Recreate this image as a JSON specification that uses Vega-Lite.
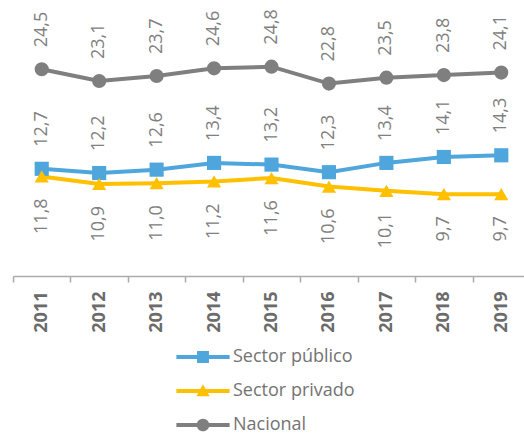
{
  "$schema": "https://vega.github.io/schema/vega-lite/v6.json",
  "width": 511,
  "height": 276,
  "autosize": {"type": "none"},
  "padding": {"left": 13, "top": 0, "right": 0, "bottom": 160},
  "config": {
    "view": {"stroke": null},
    "font": "Open Sans",
    "locale": {"number": {"decimal": ",", "thousands": ".", "grouping": [3], "currency": ["", " €"]}}
  },
  "data": {
    "values": [
      {"year": "2011", "serie": "Sector público", "value": 12.7},
      {"year": "2012", "serie": "Sector público", "value": 12.2},
      {"year": "2013", "serie": "Sector público", "value": 12.6},
      {"year": "2014", "serie": "Sector público", "value": 13.4},
      {"year": "2015", "serie": "Sector público", "value": 13.2},
      {"year": "2016", "serie": "Sector público", "value": 12.3},
      {"year": "2017", "serie": "Sector público", "value": 13.4},
      {"year": "2018", "serie": "Sector público", "value": 14.1},
      {"year": "2019", "serie": "Sector público", "value": 14.3},
      {"year": "2011", "serie": "Sector privado", "value": 11.8},
      {"year": "2012", "serie": "Sector privado", "value": 10.9},
      {"year": "2013", "serie": "Sector privado", "value": 11.0},
      {"year": "2014", "serie": "Sector privado", "value": 11.2},
      {"year": "2015", "serie": "Sector privado", "value": 11.6},
      {"year": "2016", "serie": "Sector privado", "value": 10.6},
      {"year": "2017", "serie": "Sector privado", "value": 10.1},
      {"year": "2018", "serie": "Sector privado", "value": 9.7},
      {"year": "2019", "serie": "Sector privado", "value": 9.7},
      {"year": "2011", "serie": "Nacional", "value": 24.5},
      {"year": "2012", "serie": "Nacional", "value": 23.1},
      {"year": "2013", "serie": "Nacional", "value": 23.7},
      {"year": "2014", "serie": "Nacional", "value": 24.6},
      {"year": "2015", "serie": "Nacional", "value": 24.8},
      {"year": "2016", "serie": "Nacional", "value": 22.8},
      {"year": "2017", "serie": "Nacional", "value": 23.5},
      {"year": "2018", "serie": "Nacional", "value": 23.8},
      {"year": "2019", "serie": "Nacional", "value": 24.1}
    ]
  },
  "encoding": {
    "x": {
      "field": "year", "type": "ordinal",
      "scale": {"type": "band", "paddingInner": 0, "paddingOuter": 0, "range": [0, 517]},
      "axis": {
        "title": null, "labelAngle": 270, "labelFont": "Open Sans", "labelFontSize": 18,
        "labelFontWeight": "bold", "labelColor": "#6b6b6b", "labelPadding": 9,
        "domainColor": "#ababab", "domainWidth": 1.5, "tickColor": "#ababab", "tickWidth": 1.5,
        "tickSize": 6, "tickBand": "extent", "grid": false
      }
    },
    "y": {
      "field": "value", "type": "quantitative",
      "scale": {"domain": [0, 32.7], "nice": false, "zero": true},
      "axis": null
    }
  },
  "layer": [
    {
      "mark": {"type": "line", "strokeWidth": 4},
      "encoding": {
        "color": {"field": "serie", "type": "nominal",
          "scale": {"domain": ["Sector público", "Sector privado", "Nacional"], "range": ["#4ea6dc", "#ffc000", "#7f7f7f"]},
          "legend": null},
        "detail": {"field": "serie"}
      }
    },
    {
      "mark": {"type": "point", "filled": true, "opacity": 1, "size": 200},
      "encoding": {
        "color": {"field": "serie", "type": "nominal", "legend": null},
        "shape": {"field": "serie", "type": "nominal",
          "scale": {"domain": ["Sector público", "Sector privado", "Nacional"], "range": ["square", "triangle-up", "circle"]},
          "legend": null}
      }
    },
    {
      "mark": {"type": "point", "filled": true, "size": 0},
      "encoding": {
        "color": {"field": "serie", "type": "nominal", "legend": null},
        "shape": {"field": "serie", "type": "nominal",
          "scale": {"domain": ["Sector público", "Sector privado", "Nacional"],
            "range": [
              "M-3.8,-0.3H3.8V0.3H-3.8Z M-0.85,-0.85H0.85V0.85H-0.85Z",
              "M-3.8,-0.3H3.8V0.3H-3.8Z M0,-0.95L0.95,0.75L-0.95,0.75Z",
              "M-3.8,-0.3H3.8V0.3H-3.8Z M-0.9,0A0.9,0.9 0 1,1 0.9,0A0.9,0.9 0 1,1 -0.9,0Z"
            ]},
          "legend": {
            "orient": "none", "legendX": 181, "legendY": 348, "direction": "vertical",
            "title": null, "padding": 0, "labelFont": "Open Sans", "labelFontSize": 18,
            "labelColor": "#737373", "labelOffset": 21, "symbolSize": 196, "rowPadding": 16,
            "symbolStrokeWidth": 0, "symbolOpacity": 1, "labelLimit": 300,
            "symbolFillColor": {"expr": "datum.value === 'Sector público' ? '#4ea6dc' : datum.value === 'Sector privado' ? '#ffc000' : '#7f7f7f'"}
          }}
      }
    },
    {
      "transform": [{"filter": "datum.serie !== 'Sector privado'"}],
      "mark": {"type": "text", "angle": 270, "align": "left", "baseline": "middle", "dx": 22, "font": "Open Sans", "fontSize": 18, "color": "#808080"},
      "encoding": {"text": {"field": "value", "type": "quantitative", "format": ".1f"}}
    },
    {
      "transform": [{"filter": "datum.serie === 'Sector privado'"}],
      "mark": {"type": "text", "angle": 270, "align": "right", "baseline": "middle", "dx": -22, "font": "Open Sans", "fontSize": 18, "color": "#808080"},
      "encoding": {"text": {"field": "value", "type": "quantitative", "format": ".1f"}}
    }
  ],
  "resolve": {"scale": {"shape": "independent"}}
}
